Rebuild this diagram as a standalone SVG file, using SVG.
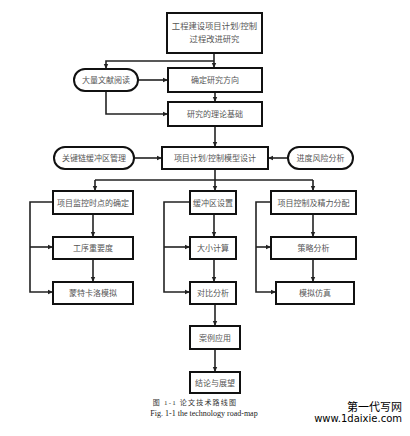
<svg xmlns="http://www.w3.org/2000/svg" width="410" height="436" viewBox="0 0 410 436">
<style>
.b{fill:#fff;stroke:#111;stroke-width:2}
.t{font-family:"Liberation Serif","Noto Sans CJK SC",serif;font-size:8px;fill:#555;text-anchor:middle}
.c{fill:none;stroke:#222;stroke-width:1.6}
</style>
<defs>
<marker id="a" markerWidth="6" markerHeight="6" refX="5" refY="3" orient="auto" markerUnits="userSpaceOnUse">
<path d="M0,0.8 L5,3 L0,5.2 Z" fill="#222"/>
</marker>
</defs>
<rect width="410" height="436" fill="#fff"/>
<g id="connectors">
<path class="c" d="M214,53 V68" marker-end="url(#a)"/>
<path class="c" d="M214,61 H106 V69" marker-end="url(#a)"/>
<path class="c" d="M138,80 H168" marker-end="url(#a)"/>
<path class="c" d="M215,92 V102" marker-end="url(#a)"/>
<path class="c" d="M106,91 V114 H168" marker-end="url(#a)"/>
<path class="c" d="M215,126 V147" marker-end="url(#a)"/>
<path class="c" d="M134,158 H162" marker-end="url(#a)"/>
<path class="c" d="M288,158 H268" marker-end="url(#a)"/>
<path class="c" d="M215,169 V180"/>
<path class="c" d="M95,180 H313"/>
<path class="c" d="M95,180 V191" marker-end="url(#a)"/>
<path class="c" d="M215,180 V191" marker-end="url(#a)"/>
<path class="c" d="M313,180 V191" marker-end="url(#a)"/>
<path class="c" d="M93,214 V237" marker-end="url(#a)"/>
<path class="c" d="M93,259 V282" marker-end="url(#a)"/>
<path class="c" d="M53,202 H30 V292 H53" marker-end="url(#a)"/>
<path class="c" d="M30,247 H53" marker-end="url(#a)"/>
<path class="c" d="M214,214 V237" marker-end="url(#a)"/>
<path class="c" d="M214,259 V282" marker-end="url(#a)"/>
<path class="c" d="M190,202 H164 V292 H190" marker-end="url(#a)"/>
<path class="c" d="M164,247 H190" marker-end="url(#a)"/>
<path class="c" d="M313,214 V237" marker-end="url(#a)"/>
<path class="c" d="M313,259 V282" marker-end="url(#a)"/>
<path class="c" d="M271,202 H256 V292 H276" marker-end="url(#a)"/>
<path class="c" d="M256,247 H271" marker-end="url(#a)"/>
<path class="c" d="M215,304 V326" marker-end="url(#a)"/>
<path class="c" d="M215,349 V372" marker-end="url(#a)"/>
</g>
<g id="n-top"><rect class="b" x="167" y="13" width="95" height="40"/><text class="t" x="214.5" y="29" style="font-size:8.3px">工程建设项目计划/控制</text><text class="t" x="214.5" y="42" style="font-size:8.3px">过程改进研究</text></g>
<g id="n-read"><rect class="b" x="74" y="69" width="64" height="22" rx="11"/><text class="t" x="106" y="83">大量文献阅读</text></g>
<g id="n-dir"><rect class="b" x="168" y="68" width="94" height="24"/><text class="t" x="215" y="83">确定研究方向</text></g>
<g id="n-theory"><rect class="b" x="168" y="102" width="94" height="24"/><text class="t" x="215" y="117">研究的理论基础</text></g>
<g id="n-ccbm"><rect class="b" x="54" y="147" width="80" height="22" rx="11"/><text class="t" x="94" y="161">关键链缓冲区管理</text></g>
<g id="n-model"><rect class="b" x="162" y="147" width="106" height="22"/><text class="t" x="215" y="161">项目计划/控制模型设计</text></g>
<g id="n-risk"><rect class="b" x="288" y="147" width="65" height="22" rx="11"/><text class="t" x="320.5" y="161">进度风险分析</text></g>
<g id="n-monitor"><rect class="b" x="53" y="191" width="80" height="23"/><text class="t" x="93" y="205.5">项目监控时点的确定</text></g>
<g id="n-import"><rect class="b" x="53" y="237" width="80" height="22"/><text class="t" x="93" y="251">工序重要度</text></g>
<g id="n-mc"><rect class="b" x="53" y="282" width="80" height="22"/><text class="t" x="93" y="296">蒙特卡洛模拟</text></g>
<g id="n-buf"><rect class="b" x="190" y="191" width="46" height="23"/><text class="t" x="213" y="205.5">缓冲区设置</text></g>
<g id="n-size"><rect class="b" x="190" y="237" width="46" height="22"/><text class="t" x="213" y="251">大小计算</text></g>
<g id="n-cmp"><rect class="b" x="190" y="282" width="46" height="22"/><text class="t" x="213" y="296">对比分析</text></g>
<g id="n-ctrl"><rect class="b" x="271" y="191" width="85" height="23"/><text class="t" x="313.5" y="205.5">项目控制及精力分配</text></g>
<g id="n-strat"><rect class="b" x="271" y="237" width="85" height="22"/><text class="t" x="313.5" y="251">策略分析</text></g>
<g id="n-sim"><rect class="b" x="276" y="282" width="78" height="22"/><text class="t" x="315" y="296">模拟仿真</text></g>
<g id="n-case"><rect class="b" x="190" y="326" width="50" height="23"/><text class="t" x="215" y="340.5">案例应用</text></g>
<g id="n-concl"><rect class="b" x="190" y="372" width="50" height="21"/><text class="t" x="215" y="385.5">结论与展望</text></g>
<text class="t" x="195" y="405" style="font-size:7px;fill:#333;letter-spacing:1.2px">图 1-1  论文技术路线图</text>
<text class="t" x="204" y="416" style="font-size:8px;fill:#222">Fig. 1-1 the technology road-map</text>
<text x="402" y="411" style="font-family:'Noto Sans CJK SC',sans-serif;font-size:11px;fill:#000;text-anchor:end">第一代写网</text>
<text x="402" y="422" style="font-family:'DejaVu Sans',sans-serif;font-size:10px;fill:#000;text-anchor:end">www.1daixie.com</text>
</svg>
